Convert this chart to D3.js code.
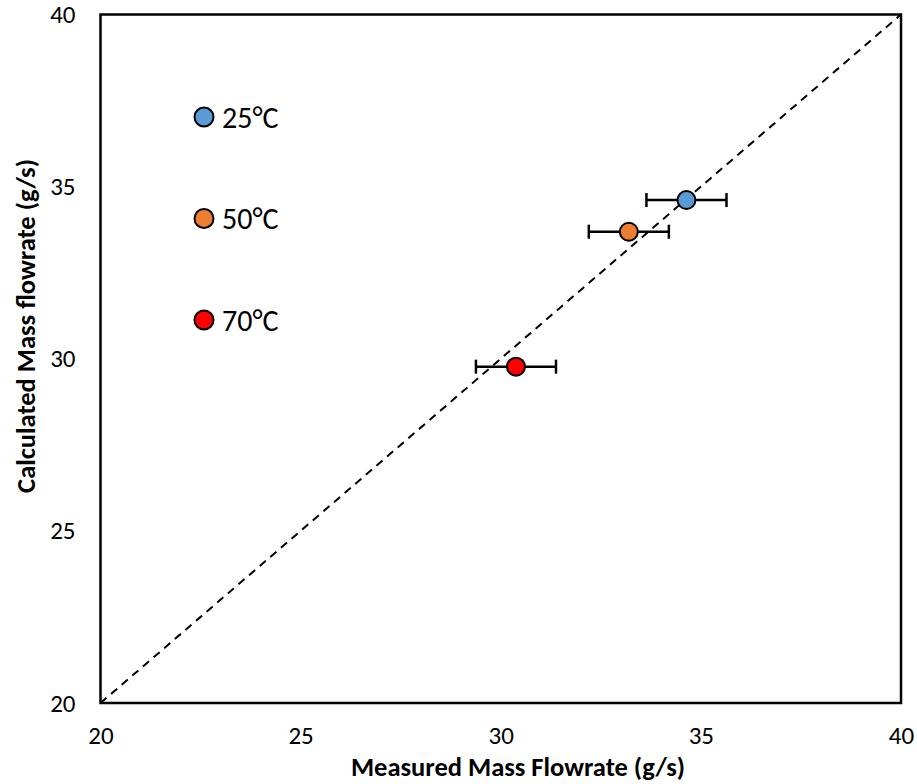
<!DOCTYPE html>
<html>
<head>
<meta charset="utf-8">
<script src="https://cdn.jsdelivr.net/npm/d3@7"></script>
<style>
  body { margin: 0; background: #fff; }
  text { font-family: Carlito, Calibri, Lato, sans-serif; }
</style>
</head>
<body>
<div id="chart"></div>
<script>
// series
const labels = ['25°C', '50°C', '70°C'];
const colors = ['#5b9bd5', '#ed7d31', '#ff0000'];
const measured = [34.64, 33.2, 30.38];
const calculated = [34.61, 33.69, 29.77];
const xError = [1.0, 1.0, 1.0];
const xTicks = [20, 25, 30, 35, 40];
const yTicks = [20, 25, 30, 35, 40];

const W = 917, H = 784;
const margin = { top: 14.5, right: 16, bottom: 81, left: 100.5 };
const width = W - margin.left - margin.right;
const height = H - margin.top - margin.bottom;

const svg = d3.select('#chart').append('svg')
  .attr('width', W)
  .attr('height', H);

const g = svg.append('g')
  .attr('transform', `translate(${margin.left},${margin.top})`);

const x = d3.scaleLinear().domain([20, 40]).range([0, width]);
const y = d3.scaleLinear().domain([20, 40]).range([height, 0]);

// axes (labels only, no tick marks)
const xAxis = g.append('g')
  .attr('transform', `translate(0,${height})`)
  .call(d3.axisBottom(x).tickValues(xTicks).tickSize(0).tickPadding(23));
xAxis.select('.domain').remove();
xAxis.selectAll('text').attr('font-size', 25).attr('fill', '#000');

const yAxis = g.append('g')
  .call(d3.axisLeft(y).tickValues(yTicks).tickSize(0).tickPadding(25));
yAxis.select('.domain').remove();
yAxis.selectAll('text').attr('font-size', 25).attr('fill', '#000');

// 1:1 line
g.append('line')
  .attr('x1', x(20)).attr('y1', y(20))
  .attr('x2', x(40)).attr('y2', y(40))
  .attr('stroke', '#000')
  .attr('stroke-width', 2)
  .attr('stroke-dasharray', '8,6');

// frame
g.append('rect')
  .attr('width', width)
  .attr('height', height)
  .attr('fill', 'none')
  .attr('stroke', '#000')
  .attr('stroke-width', 2.5);

// error bars
const eb = g.selectAll('.errbar')
  .data(measured)
  .enter().append('g')
  .attr('class', 'errbar')
  .attr('stroke', '#000')
  .attr('stroke-width', 2.5);

eb.append('line')
  .attr('x1', (d, i) => x(d - xError[i]))
  .attr('x2', (d, i) => x(d + xError[i]))
  .attr('y1', (d, i) => y(calculated[i]))
  .attr('y2', (d, i) => y(calculated[i]));

eb.append('line')
  .attr('x1', (d, i) => x(d - xError[i]))
  .attr('x2', (d, i) => x(d - xError[i]))
  .attr('y1', (d, i) => y(calculated[i]) - 7)
  .attr('y2', (d, i) => y(calculated[i]) + 7);

eb.append('line')
  .attr('x1', (d, i) => x(d + xError[i]))
  .attr('x2', (d, i) => x(d + xError[i]))
  .attr('y1', (d, i) => y(calculated[i]) - 7)
  .attr('y2', (d, i) => y(calculated[i]) + 7);

// points
g.selectAll('.pt')
  .data(measured)
  .enter().append('circle')
  .attr('class', 'pt')
  .attr('cx', d => x(d))
  .attr('cy', (d, i) => y(calculated[i]))
  .attr('r', 9)
  .attr('fill', (d, i) => colors[i])
  .attr('stroke', '#000')
  .attr('stroke-width', 2);

// legend
const legend = g.selectAll('.legend')
  .data(labels)
  .enter().append('g')
  .attr('class', 'legend')
  .attr('transform', (d, i) => `translate(${103.5},${102.5 + i * 101.5})`);

legend.append('circle')
  .attr('r', 9.5)
  .attr('fill', (d, i) => colors[i])
  .attr('stroke', '#000')
  .attr('stroke-width', 2);

legend.append('text')
  .attr('x', 18)
  .attr('dy', '0.36em')
  .attr('font-size', 30)
  .text(d => d);

// axis titles
svg.append('text')
  .attr('x', 518)
  .attr('y', 776)
  .attr('text-anchor', 'middle')
  .attr('font-size', 26.5)
  .attr('font-weight', 'bold')
  .text('Measured Mass Flowrate (g/s)');

svg.append('text')
  .attr('transform', 'translate(35,326) rotate(-90)')
  .attr('text-anchor', 'middle')
  .attr('font-size', 26.5)
  .attr('font-weight', 'bold')
  .text('Calculated Mass flowrate (g/s)');
</script>
</body>
</html>
